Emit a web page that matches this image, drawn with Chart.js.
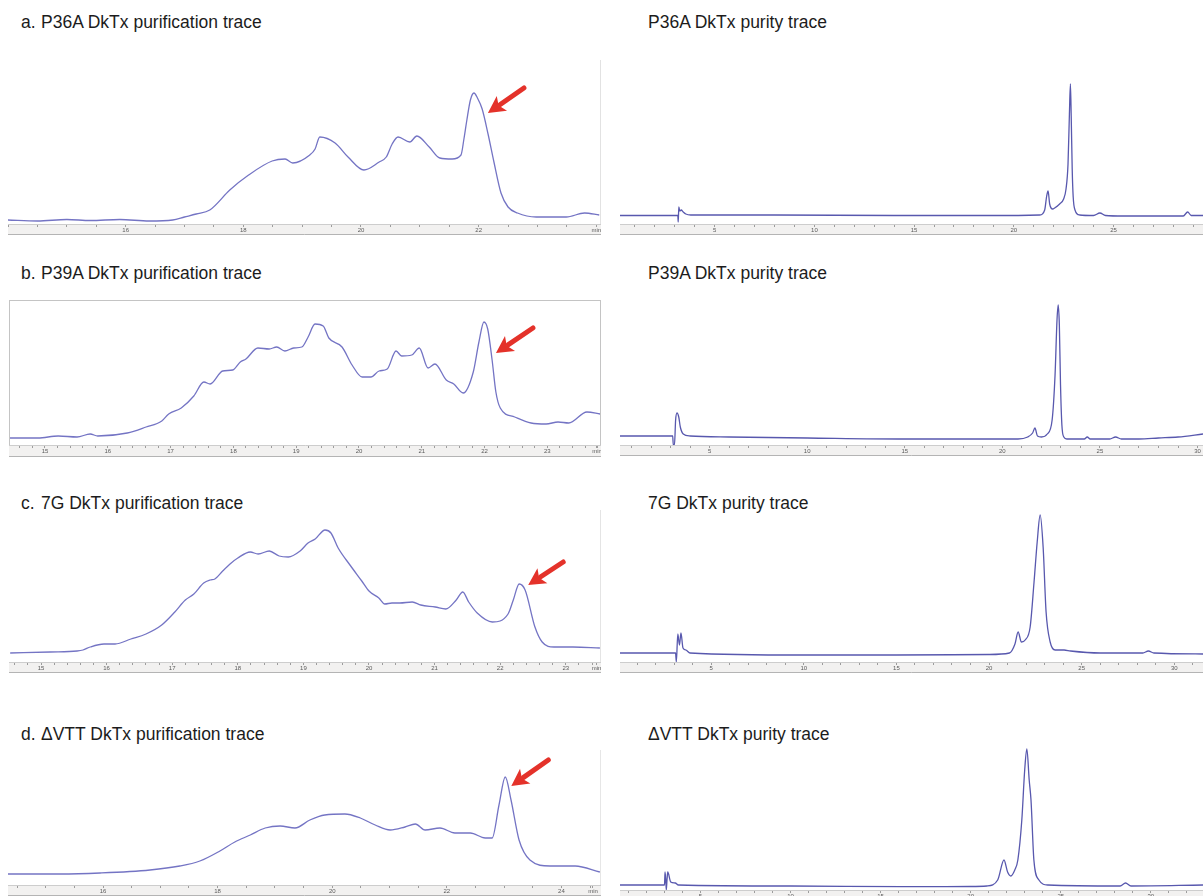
<!DOCTYPE html>
<html>
<head>
<meta charset="utf-8">
<script src="https://cdn.jsdelivr.net/npm/chart.js@4/dist/chart.umd.min.js"></script>
<style>
  html, body { margin: 0; padding: 0; width: 1203px; height: 896px; overflow: hidden; background: #ffffff; }
  body { position: relative; font-family: Arial, "Liberation Sans", sans-serif; }
  .title { position: absolute; font-size: 17.5px; line-height: 20px; color: #1c1c1c; white-space: nowrap; }
  .title .tag { display: inline-block; width: 20px; }
  .panel { position: absolute; }
  .panel canvas { display: block; }
</style>
</head>
<body>

<div class="title" style="left:21px;top:12px;"><span class="tag">a.</span>P36A DkTx purification trace</div>
<div class="title" style="left:648px;top:12px;">P36A DkTx purity trace</div>
<div class="title" style="left:21px;top:263px;"><span class="tag">b.</span>P39A DkTx purification trace</div>
<div class="title" style="left:648px;top:263px;">P39A DkTx purity trace</div>
<div class="title" style="left:21px;top:493px;"><span class="tag">c.</span>7G DkTx purification trace</div>
<div class="title" style="left:648px;top:493px;">7G DkTx purity trace</div>
<div class="title" style="left:21px;top:724px;"><span class="tag">d.</span>ΔVTT DkTx purification trace</div>
<div class="title" style="left:648px;top:724px;">ΔVTT DkTx purity trace</div>

<script>
// ---- Retention time (min) and detector signal (arbitrary units) ----

// a. P36A purification (preparative run)
const p36aPrepTime   = [14.0,14.5,15.0,15.4,15.9,16.4,16.8,17.0,17.2,17.43,17.77,18.09,18.49,18.71,18.84,19.13,19.22,19.30,19.56,19.78,20.05,20.31,20.43,20.53,20.63,20.83,20.95,21.16,21.34,21.55,21.70,21.75,21.80,21.86,21.92,21.98,22.06,22.16,22.26,22.38,22.5,22.66,22.98,23.49,23.8,24.05];
const p36aPrepSignal = [4,3,4.5,3.5,4.5,3,4,7,10,14,34,49,63,65,61,69,75,87,81,67,54,62,67,80,87,82,88,77,66,65,69,85,104,124,131,126,115,90,62,31,17,11,7,7,11,9];

// a. P36A purity (analytical run)
const p36aPurityTime   = [0.25,3.0,3.15,3.17,3.2,3.25,3.32,3.42,3.55,3.8,8,14,19,21.3,21.55,21.65,21.72,21.8,21.95,22.05,22.3,22.5,22.62,22.72,22.79,22.84,22.88,22.93,22.98,23.07,23.3,24.0,24.32,24.6,25.5,28.5,28.72,28.9,29.49];
const p36aPuritySignal = [8.5,8.5,8.5,2,17,13,14,12,10,9,9,8.5,8.5,9,14,28,33,20,15,16,20,25,35,60,110,140,108,55,27,14,9,8.5,11,8.5,8,8,12,8.5,8.5];

// b. P39A purification
const p39aPrepTime   = [14.44,14.89,15.21,15.51,15.72,15.84,16.31,16.61,16.86,16.97,17.17,17.37,17.53,17.63,17.83,17.99,18.11,18.20,18.39,18.57,18.69,18.82,18.96,19.09,19.19,19.30,19.43,19.52,19.73,19.89,20.05,20.19,20.32,20.45,20.59,20.68,20.84,20.96,21.10,21.21,21.39,21.51,21.66,21.82,21.91,21.99,22.05,22.12,22.18,22.25,22.48,22.74,22.98,23.17,23.34,23.63,23.84];
const p39aPrepSignal = [7,7,9,8,11,9,12,18,24,31,37,49,63,61,74,75,83,86,97,96,98,94,97,98,108,121,119,107,98,80,68,68,74,76,94,89,90,97,77,81,65,61,52,73,103,123,116,85,53,37,28,22,21,23,22,33,31];

// b. P39A purity
const p39aPurityTime   = [0.41,3.05,3.11,3.14,3.2,3.26,3.33,3.42,3.5,3.65,4.0,6,10,15,20,20.8,21.3,21.55,21.67,21.8,22.0,22.3,22.55,22.7,22.8,22.86,22.92,22.98,23.05,23.15,23.3,24.2,24.35,24.5,25.5,25.8,26.1,27,28,29,30.28];
const p39aPuritySignal = [9,9,9,0,0,25,32,28,18,11,9,8,7,6,6,6,8,12,17,9,8,11,25,70,125,140,120,60,20,8,6,6,8,6,6,8,6,6,7,8,11];

// c. 7G purification
const g7PrepTime   = [14.53,15.14,15.55,15.64,15.75,15.96,16.13,16.37,16.60,16.84,17.04,17.20,17.33,17.48,17.58,17.65,17.77,17.90,18.00,18.19,18.31,18.48,18.63,18.77,18.95,19.07,19.18,19.33,19.42,19.53,19.71,19.89,20.00,20.15,20.24,20.35,20.47,20.66,20.79,21.01,21.17,21.33,21.43,21.52,21.65,21.88,22.12,22.20,22.29,22.38,22.53,22.64,22.82,23.11,23.52];
const g7PrepSignal = [9,10,11,12,15,18,18,23,28,37,50,62,68,79,82,83,91,99,104,110,108,111,106,105,111,119,123,132,129,114,97,81,71,64,58,59,59,60,57,55,53,62,70,60,49,40,48,62,78,72,35,20,15,15,14];

// c. 7G purity
const g7PurityTime   = [0.08,2.99,3.08,3.12,3.2,3.29,3.37,3.48,3.64,3.86,10,15,20,21.1,21.4,21.57,21.75,21.95,22.22,22.43,22.6,22.76,22.92,23.08,23.3,23.57,24.05,24.4,26,28.3,28.6,28.9,31.55];
const g7PuritySignal = [9,9,9,0,28,17,29,14,12,9,7,7,7.5,9,18,30,20,22,35,80,120,147,115,50,20,12,12,11,9,9,11,9,8];

// d. ΔVTT purification
const dvttPrepTime   = [14.34,15.25,15.95,16.82,17.34,17.69,18.04,18.30,18.57,18.83,19.09,19.35,19.61,19.87,20.22,20.49,20.75,21.01,21.27,21.45,21.62,21.88,22.14,22.41,22.67,22.79,22.91,23.02,23.12,23.26,23.45,23.80,24.24,24.67];
const dvttPrepSignal = [11,11,12,15,19,24,34,43,50,57,59,57,65,70,71,67,60,55,58,61,55,57,52,52,47,47,80,108,85,45,25,19,19,13];

// d. ΔVTT purity
const dvttPurityTime   = [0.53,3.0,3.03,3.07,3.1,3.14,3.18,3.35,3.6,3.77,10,16.2,20,20.9,21.5,21.85,22.05,22.23,22.45,22.62,22.84,23.0,23.12,23.25,23.35,23.51,23.79,24.29,28.3,28.6,28.9,32.9];
const dvttPuritySignal = [5,5,18,10,0,10,18,8,7,5,4,3.3,3.5,4,10,30,18,14,20,30,70,120,141,110,90,30,10,5,4,7,4,5];

// ---- Axis tick labels ----
const prepTicksA    = [16, 18, 20, 22, 24];
const prepTextA     = ['16', '18', '20', '22', 'min'];
const prepTicksB    = [15, 16, 17, 18, 19, 20, 21, 22, 23, 23.79];
const prepTextB     = ['15', '16', '17', '18', '19', '20', '21', '22', '23', 'min'];
const prepTicksC    = [15, 16, 17, 18, 19, 20, 21, 22, 23, 23.47];
const prepTextC     = ['15', '16', '17', '18', '19', '20', '21', '22', '23', 'min'];
const prepTicksD    = [16, 18, 20, 22, 24, 24.55];
const prepTextD     = ['16', '18', '20', '22', '24', 'min'];
const purityTicksA  = [5, 10, 15, 20, 25];
const purityTextA   = ['5', '10', '15', '20', '25'];
const purityTicks   = [5, 10, 15, 20, 25, 30];
const purityText    = ['5', '10', '15', '20', '25', '30'];

// ---- Styling ----
const PREP_LINE   = '#7474c4';
const PURITY_LINE = '#5858ae';
const ARROW_RED   = '#e4322a';

// light grey instrument-style time strip under each trace
const stripPlugin = {
  id: 'timeStrip',
  beforeDraw(chart) {
    const s = chart.scales.x, ctx = chart.ctx;
    ctx.save();
    ctx.fillStyle = '#f2f1f0';
    ctx.fillRect(s.left, s.top, s.right - s.left, s.bottom - s.top);
    ctx.strokeStyle = '#b4b4b4';
    ctx.lineWidth = 1;
    ctx.beginPath();
    ctx.moveTo(s.left, s.bottom - 0.5);
    ctx.lineTo(s.right, s.bottom - 0.5);
    ctx.stroke();
    ctx.restore();
  }
};

// thin frame lines around the plotting area
const framePlugin = {
  id: 'plotFrame',
  afterDraw(chart, args, opts) {
    if (!opts || !opts.sides) return;
    const a = chart.chartArea, ctx = chart.ctx;
    ctx.save();
    ctx.strokeStyle = opts.color;
    ctx.lineWidth = 1;
    ctx.beginPath();
    if (opts.sides.includes('top'))   { ctx.moveTo(a.left, a.top + 0.5); ctx.lineTo(a.right, a.top + 0.5); }
    if (opts.sides.includes('right')) { ctx.moveTo(a.right - 0.5, a.top); ctx.lineTo(a.right - 0.5, a.bottom); }
    if (opts.sides.includes('left'))  { ctx.moveTo(a.left + 0.5, a.top); ctx.lineTo(a.left + 0.5, a.bottom); }
    ctx.stroke();
    ctx.restore();
  }
};

// red arrow pointing at the collected peak (highest point inside a time window)
const arrowPlugin = {
  id: 'peakArrow',
  afterDatasetsDraw(chart, args, opts) {
    if (!opts || !opts.window) return;
    const pts = chart.data.datasets[0].data;
    let best = null;
    pts.forEach(p => {
      if (p.x >= opts.window[0] && p.x <= opts.window[1] && (!best || p.y > best.y)) best = p;
    });
    if (!best) return;
    const px = chart.scales.x.getPixelForValue(best.x);
    const py = chart.scales.y.getPixelForValue(best.y);
    const tipX = px + opts.gap[0], tipY = py + opts.gap[1];
    const tailX = tipX + opts.shaft[0], tailY = tipY + opts.shaft[1];
    const ang = Math.atan2(tipY - tailY, tipX - tailX);
    const headLen = 17, headHalf = 9;
    const bx = tipX - headLen * Math.cos(ang), by = tipY - headLen * Math.sin(ang);
    const ctx = chart.ctx;
    ctx.save();
    ctx.strokeStyle = ARROW_RED;
    ctx.fillStyle = ARROW_RED;
    ctx.lineWidth = 5;
    ctx.lineCap = 'round';
    ctx.beginPath();
    ctx.moveTo(tailX, tailY);
    ctx.lineTo(bx + 2 * Math.cos(ang), by + 2 * Math.sin(ang));
    ctx.stroke();
    ctx.beginPath();
    ctx.moveTo(tipX, tipY);
    ctx.lineTo(bx + headHalf * Math.sin(ang), by - headHalf * Math.cos(ang));
    ctx.lineTo(bx + 4 * Math.cos(ang), by + 4 * Math.sin(ang));
    ctx.lineTo(bx - headHalf * Math.sin(ang), by + headHalf * Math.cos(ang));
    ctx.closePath();
    ctx.fill();
    ctx.restore();
  }
};

Chart.register(stripPlugin, framePlugin, arrowPlugin);

const panels = [
  { left: 8,   top: 60,  width: 593, height: 175, strip: 11, time: p36aPrepTime,   signal: p36aPrepSignal,
    xMin: 14.0,  xMax: 24.08, yMax: 164, step: 0.5, tickVals: prepTicksA, tickText: prepTextA, color: PREP_LINE,
    arrow: { window: [21.5, 22.5], gap: [14, 20], shaft: [36, -25] }, frame: { sides: ['right'], color: '#e2e2e2' } },
  { left: 620, top: 60,  width: 583, height: 175, strip: 11, time: p36aPurityTime, signal: p36aPuritySignal,
    xMin: 0.25,  xMax: 29.49, yMax: 164, step: 1, tickVals: purityTicksA, tickText: purityTextA, color: PURITY_LINE },
  { left: 9,   top: 300, width: 592, height: 157, strip: 12, time: p39aPrepTime,   signal: p39aPrepSignal,
    xMin: 14.427, xMax: 23.854, yMax: 145, step: 0.2, tickVals: prepTicksB, tickText: prepTextB, color: PREP_LINE,
    arrow: { window: [21.7, 22.4], gap: [12, 31], shaft: [37, -25] }, frame: { sides: ['top', 'right', 'left'], color: '#c4c4c4' } },
  { left: 620, top: 300, width: 583, height: 156, strip: 11, time: p39aPurityTime, signal: p39aPuritySignal,
    xMin: 0.41,  xMax: 30.28, yMax: 145, step: 1, tickVals: purityTicks, tickText: purityText, color: PURITY_LINE },
  { left: 9,   top: 510, width: 592, height: 163, strip: 11, time: g7PrepTime,     signal: g7PrepSignal,
    xMin: 14.512, xMax: 23.537, yMax: 152, step: 0.2, tickVals: prepTicksC, tickText: prepTextC, color: PREP_LINE,
    arrow: { window: [22.0, 22.6], gap: [9, 1], shaft: [35, -23] }, frame: { sides: ['right'], color: '#e4e4e4' } },
  { left: 620, top: 510, width: 583, height: 163, strip: 11, time: g7PurityTime,   signal: g7PuritySignal,
    xMin: 0.08,  xMax: 31.55, yMax: 152, step: 1, tickVals: purityTicks, tickText: purityText, color: PURITY_LINE },
  { left: 8,   top: 750, width: 593, height: 146, strip: 11, time: dvttPrepTime,   signal: dvttPrepSignal,
    xMin: 14.342, xMax: 24.69, yMax: 135, step: 0.5, tickVals: prepTicksD, tickText: prepTextD, color: PREP_LINE,
    arrow: { window: [22.7, 23.3], gap: [6, 9], shaft: [37, -26] }, frame: { sides: ['right'], color: '#e6e6e6' } },
  { left: 620, top: 740, width: 583, height: 161, strip: 11, time: dvttPurityTime, signal: dvttPuritySignal,
    xMin: 0.53,  xMax: 32.9, yMax: 150, step: 1, tickVals: purityTicks, tickText: purityText, color: PURITY_LINE }
];

function tickList(p) {
  const vals = [];
  const first = Math.ceil(p.xMin / p.step - 1e-9);
  for (let k = first; k * p.step <= p.xMax + 1e-9; k++) vals.push(+(k * p.step).toFixed(4));
  p.tickVals.forEach(v => { if (!vals.some(t => Math.abs(t - v) < 1e-6)) vals.push(v); });
  return vals.sort((a, b) => a - b);
}

panels.forEach(p => {
  const wrap = document.createElement('div');
  wrap.className = 'panel';
  wrap.style.left = p.left + 'px';
  wrap.style.top = p.top + 'px';
  wrap.style.width = p.width + 'px';
  wrap.style.height = p.height + 'px';
  const canvas = document.createElement('canvas');
  canvas.width = p.width;
  canvas.height = p.height;
  wrap.appendChild(canvas);
  document.body.appendChild(wrap);

  const n = Math.min(p.time.length, p.signal.length);
  const points = [];
  for (let i = 0; i < n; i++) points.push({ x: p.time[i], y: p.signal[i] });
  const ticks = tickList(p);

  new Chart(canvas, {
    type: 'line',
    data: {
      datasets: [{
        data: points,
        borderColor: p.color,
        borderWidth: 1.3,
        pointRadius: 0,
        fill: false,
        cubicInterpolationMode: 'monotone'
      }]
    },
    options: {
      responsive: false,
      animation: false,
      devicePixelRatio: 1,
      layout: { padding: 0 },
      plugins: {
        legend: { display: false },
        tooltip: { enabled: false },
        title: { display: false },
        peakArrow: p.arrow || {},
        plotFrame: p.frame || {}
      },
      scales: {
        x: {
          type: 'linear',
          position: 'bottom',
          min: p.xMin,
          max: p.xMax,
          afterBuildTicks: s => { s.ticks = ticks.map(v => ({ value: v })); },
          afterFit: s => { s.height = p.strip; s.paddingLeft = 0; s.paddingRight = 0; },
          grid: { drawOnChartArea: false, drawTicks: true, tickLength: 3, color: '#9c9c9c', lineWidth: 1 },
          border: { display: true, color: '#cdcdcd' },
          ticks: {
            autoSkip: false,
            maxRotation: 0,
            padding: 0,
            color: '#5a5a5a',
            font: { size: 6, family: 'Arial, "Liberation Sans", sans-serif' },
            callback: v => {
              const i = p.tickVals.findIndex(t => Math.abs(t - v) < 1e-6);
              return i >= 0 ? p.tickText[i] : '';
            }
          }
        },
        y: { display: false, min: 0, max: p.yMax }
      }
    }
  });
});
</script>
</body>
</html>
